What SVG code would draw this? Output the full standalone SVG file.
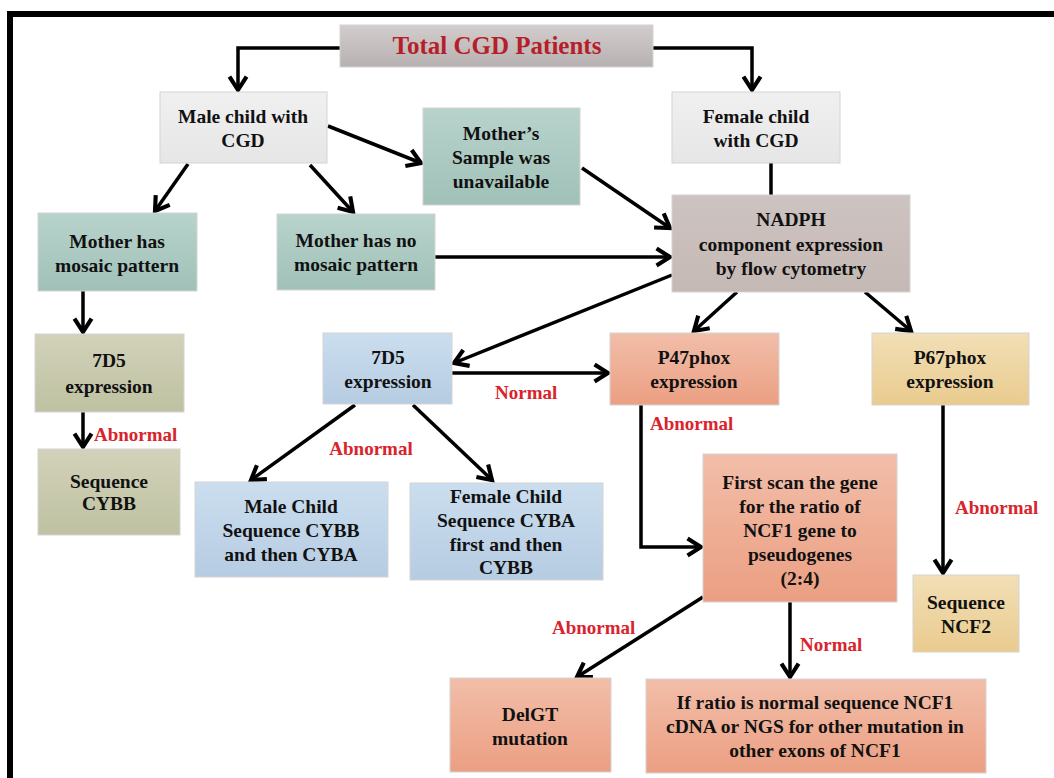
<svg xmlns="http://www.w3.org/2000/svg" width="1054" height="778" viewBox="0 0 1054 778">
<defs>
<linearGradient id="gGray" x1="0" y1="0" x2="0" y2="1"><stop offset="0" stop-color="#d2cccc"/><stop offset="1" stop-color="#b8b1b1"/></linearGradient>
<linearGradient id="gLight" x1="0" y1="0" x2="0" y2="1"><stop offset="0" stop-color="#f1f0f1"/><stop offset="1" stop-color="#e7e6e7"/></linearGradient>
<linearGradient id="gTeal" x1="0" y1="0" x2="0" y2="1"><stop offset="0" stop-color="#b8d3cc"/><stop offset="1" stop-color="#a0c1b8"/></linearGradient>
<linearGradient id="gTaupe" x1="0" y1="0" x2="0" y2="1"><stop offset="0" stop-color="#cdc3c0"/><stop offset="1" stop-color="#c5b9b5"/></linearGradient>
<linearGradient id="gOlive" x1="0" y1="0" x2="0" y2="1"><stop offset="0" stop-color="#d1d2b9"/><stop offset="1" stop-color="#bfc1a2"/></linearGradient>
<linearGradient id="gBlue" x1="0" y1="0" x2="0" y2="1"><stop offset="0" stop-color="#cbdeef"/><stop offset="1" stop-color="#b6cce2"/></linearGradient>
<linearGradient id="gSalmon" x1="0" y1="0" x2="0" y2="1"><stop offset="0" stop-color="#f2bea9"/><stop offset="1" stop-color="#eb9f82"/></linearGradient>
<linearGradient id="gYellow" x1="0" y1="0" x2="0" y2="1"><stop offset="0" stop-color="#f2dfb6"/><stop offset="1" stop-color="#e9cb8e"/></linearGradient>
<marker id="arr" markerUnits="userSpaceOnUse" markerWidth="22" markerHeight="22" viewBox="-2 -2 18 18" refX="12" refY="7" orient="auto">
<path d="M1,0 L12,7 L1,14" fill="none" stroke="#000" stroke-width="3.4" stroke-linejoin="miter"/>
</marker>
</defs>
<style>
.box{stroke:#d6d3d3;stroke-width:1}
.t{font-family:"Liberation Serif","Times New Roman",serif;font-weight:bold;font-size:19.5px;fill:#111;text-anchor:middle}
.lbl{font-family:"Liberation Serif","Times New Roman",serif;font-weight:bold;font-size:19px;fill:#d9232d}
.title{font-family:"Liberation Serif","Times New Roman",serif;font-weight:bold;font-size:25px;fill:#b51f29;text-anchor:middle}
.c{fill:none;stroke:#000;stroke-width:3.5}
.ca{fill:none;stroke:#000;stroke-width:3.5;marker-end:url(#arr)}
</style>
<rect width="1054" height="778" fill="#fff"/>
<rect id="frameTop" x="7" y="11" width="1047" height="6" fill="#000"/>
<rect id="frameLeft" x="7" y="11" width="6" height="767" fill="#000"/>

<g id="connectors">
<path class="ca" d="M340,48 H238 V90"/>
<path class="ca" d="M653,48 H752 V90"/>
<path class="ca" d="M328,126 L421,163"/>
<path class="ca" d="M188,164 L155,211"/>
<path class="ca" d="M310,165 L353,212"/>
<path class="c" d="M771,163 V195"/>
<path class="ca" d="M582,168 L670,228"/>
<path class="ca" d="M435,257 H670"/>
<path class="ca" d="M672,275 L454,363"/>
<path class="ca" d="M737,292 L694,331"/>
<path class="ca" d="M865,292 L911,331"/>
<path class="ca" d="M83,291 V332"/>
<path class="ca" d="M83,412 V447"/>
<path class="ca" d="M452,373 H608"/>
<path class="ca" d="M355,405 L251,480"/>
<path class="ca" d="M413,405 L492,480"/>
<path class="ca" d="M641,405 V547 H701"/>
<path class="ca" d="M943,405 V573"/>
<path class="ca" d="M703,597 L577,677"/>
<path class="ca" d="M790,602 V677"/>
</g>

<g id="labels">
<text class="lbl" x="94" y="441">Abnormal</text>
<text class="lbl" x="371" y="455" text-anchor="middle">Abnormal</text>
<text class="lbl" x="495" y="399">Normal</text>
<text class="lbl" x="650" y="430">Abnormal</text>
<text class="lbl" x="955" y="514">Abnormal</text>
<text class="lbl" x="552" y="634">Abnormal</text>
<text class="lbl" x="800" y="651">Normal</text>
</g>

<g id="total">
<rect class="box" x="340" y="25" width="313" height="42" fill="url(#gGray)"/>
<text class="title" x="497" y="54">Total CGD Patients</text>
</g>
<g id="male">
<rect class="box" x="160" y="92" width="167" height="71" fill="url(#gLight)"/>
<text class="t" x="243" y="123">Male child with</text>
<text class="t" x="243" y="147">CGD</text>
</g>
<g id="female">
<rect class="box" x="672" y="92" width="168" height="71" fill="url(#gLight)"/>
<text class="t" x="756" y="123">Female child</text>
<text class="t" x="756" y="147">with CGD</text>
</g>
<g id="mothersample">
<rect class="box" x="423" y="108" width="157" height="97" fill="url(#gTeal)"/>
<text class="t" x="501" y="140">Mother’s</text>
<text class="t" x="501" y="164">Sample was</text>
<text class="t" x="501" y="188">unavailable</text>
</g>
<g id="mosaic">
<rect class="box" x="38" y="213" width="159" height="78" fill="url(#gTeal)"/>
<text class="t" x="117" y="248">Mother has</text>
<text class="t" x="117" y="272">mosaic pattern</text>
</g>
<g id="nomosaic">
<rect class="box" x="277" y="214" width="158" height="76" fill="url(#gTeal)"/>
<text class="t" x="356" y="247">Mother has no</text>
<text class="t" x="356" y="271">mosaic pattern</text>
</g>
<g id="nadph">
<rect class="box" x="672" y="195" width="238" height="97" fill="url(#gTaupe)"/>
<text class="t" x="791" y="226">NADPH</text>
<text class="t" x="791" y="251">component expression</text>
<text class="t" x="791" y="275">by flow cytometry</text>
</g>
<g id="olive7d5">
<rect class="box" x="35" y="334" width="149" height="78" fill="url(#gOlive)"/>
<text class="t" x="109" y="367">7D5</text>
<text class="t" x="109" y="393">expression</text>
</g>
<g id="seqcybb">
<rect class="box" x="38" y="449" width="142" height="86" fill="url(#gOlive)"/>
<text class="t" x="109" y="488">Sequence</text>
<text class="t" x="109" y="510">CYBB</text>
</g>
<g id="blue7d5">
<rect class="box" x="323" y="333" width="129" height="71" fill="url(#gBlue)"/>
<text class="t" x="388" y="364">7D5</text>
<text class="t" x="388" y="388">expression</text>
</g>
<g id="p47">
<rect class="box" x="610" y="333" width="169" height="72" fill="url(#gSalmon)"/>
<text class="t" x="694" y="364">P47phox</text>
<text class="t" x="694" y="388">expression</text>
</g>
<g id="p67">
<rect class="box" x="872" y="333" width="157" height="72" fill="url(#gYellow)"/>
<text class="t" x="950" y="364">P67phox</text>
<text class="t" x="950" y="388">expression</text>
</g>
<g id="malechild">
<rect class="box" x="195" y="482" width="193" height="95" fill="url(#gBlue)"/>
<text class="t" x="291" y="513">Male Child</text>
<text class="t" x="291" y="537">Sequence CYBB</text>
<text class="t" x="291" y="561">and then CYBA</text>
</g>
<g id="femalechild">
<rect class="box" x="410" y="483" width="193" height="97" fill="url(#gBlue)"/>
<text class="t" x="506" y="503">Female Child</text>
<text class="t" x="506" y="527">Sequence CYBA</text>
<text class="t" x="506" y="551">first and then</text>
<text class="t" x="506" y="574">CYBB</text>
</g>
<g id="firstscan">
<rect class="box" x="703" y="454" width="194" height="148" fill="url(#gSalmon)"/>
<text class="t" x="800" y="489">First scan the gene</text>
<text class="t" x="800" y="513">for the ratio of</text>
<text class="t" x="800" y="537">NCF1 gene  to</text>
<text class="t" x="800" y="561">pseudogenes</text>
<text class="t" x="800" y="585">(2:4)</text>
</g>
<g id="seqncf2">
<rect class="box" x="913" y="575" width="106" height="77" fill="url(#gYellow)"/>
<text class="t" x="966" y="609">Sequence</text>
<text class="t" x="966" y="633">NCF2</text>
</g>
<g id="delgt">
<rect class="box" x="450" y="678" width="161" height="94" fill="url(#gSalmon)"/>
<text class="t" x="530" y="721">DelGT</text>
<text class="t" x="530" y="745">mutation</text>
</g>
<g id="ifratio">
<rect class="box" x="646" y="679" width="340" height="94" fill="url(#gSalmon)"/>
<text class="t" x="815" y="709">If ratio is normal sequence NCF1</text>
<text class="t" x="815" y="733">cDNA or NGS for other mutation in</text>
<text class="t" x="815" y="757">other exons of NCF1</text>
</g>
</svg>
